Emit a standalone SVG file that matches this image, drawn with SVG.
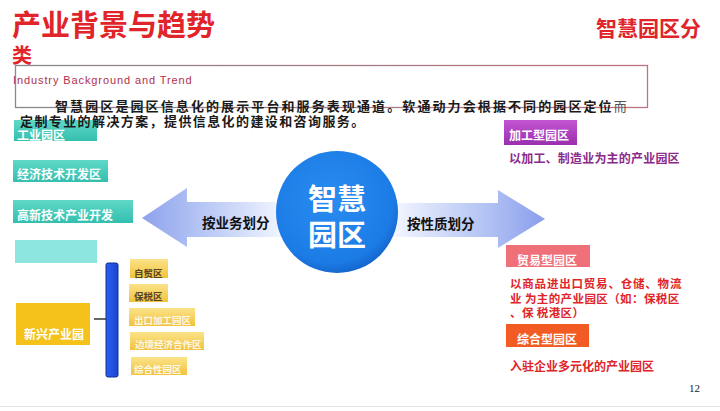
<svg xmlns="http://www.w3.org/2000/svg" width="720" height="411" viewBox="0 0 720 411">
<defs>
<style>
.cjk{font-family:"Noto Sans CJK SC","Noto Sans",sans-serif;font-weight:bold}
.teal{fill:url(#gTeal)}
.wt{fill:#ffffff;font-size:12px}
.ybox{fill:url(#gYel)}
.ysm{font-size:9.5px}
</style>
<linearGradient id="gTeal" x1="0" y1="0" x2="0" y2="1">
<stop offset="0" stop-color="#5fd8c8"/><stop offset="1" stop-color="#34bfae"/>
</linearGradient>
<linearGradient id="gYel" x1="0" y1="0" x2="0" y2="1">
<stop offset="0" stop-color="#fbe38a"/><stop offset="1" stop-color="#f1c23c"/>
</linearGradient>
<linearGradient id="gLeft" x1="0" y1="0" x2="1" y2="0">
<stop offset="0" stop-color="#8ea2ec"/><stop offset="0.4" stop-color="#b4c4f4"/><stop offset="1" stop-color="#f4f7ff"/>
</linearGradient>
<linearGradient id="gRight" x1="0" y1="0" x2="1" y2="0">
<stop offset="0" stop-color="#f4f7ff"/><stop offset="0.6" stop-color="#b4c4f4"/><stop offset="1" stop-color="#8a9eec"/>
</linearGradient>
<linearGradient id="gBorder" x1="0" y1="0" x2="1" y2="0">
<stop offset="0" stop-color="#8a8a8a"/><stop offset="1" stop-color="#c07080"/>
</linearGradient>
<linearGradient id="gPurple" x1="0" y1="0" x2="0" y2="1">
<stop offset="0" stop-color="#c455d2"/><stop offset="1" stop-color="#9a2fae"/>
</linearGradient>
<radialGradient id="gCircle" cx="0.45" cy="0.4" r="0.6">
<stop offset="0" stop-color="#2a8cf0"/><stop offset="0.85" stop-color="#1c7ce6"/><stop offset="1" stop-color="#1668d0"/>
</radialGradient>
<linearGradient id="gBlue" x1="0" y1="0" x2="1" y2="0">
<stop offset="0" stop-color="#2a5ff0"/><stop offset="1" stop-color="#1a44d0"/>
</linearGradient>
</defs>
<rect width="720" height="411" fill="#ffffff"/>

<!-- header -->
<g id="title">
<text class="cjk" x="12" y="36" font-size="29" fill="#e0242a">产业背景与趋势</text>
<text class="cjk" x="12" y="63" font-size="20" fill="#e0242a">类</text>
<text class="cjk" x="596" y="36" font-size="21" fill="#e0242a">智慧园区分</text>
</g>
<g id="subtitle-box">
<rect x="15.5" y="65.5" width="632" height="42" fill="none" stroke="url(#gBorder)" stroke-width="1.3"/>
<text x="13" y="84" font-family="Liberation Sans, Arial, sans-serif" font-size="11" fill="#b0304e" letter-spacing="0.9">Industry  Background  and  Trend</text>
</g>

<!-- connectors -->
<g id="connectors">
<path d="M142,218 L187,188 L187,202 L285,202 L285,237 L187,237 L187,247 Z" fill="url(#gLeft)"/>
<path d="M545,219 L498,190 L498,203 L392,203 L392,237 L498,237 L498,248 Z" fill="url(#gRight)"/>
<line x1="94" y1="319" x2="106" y2="319" stroke="#333" stroke-width="1.5"/>
<rect id="bracket" x="106" y="263" width="12" height="114" rx="2" fill="url(#gBlue)" stroke="#10308a" stroke-width="1"/>
</g>

<!-- center -->
<g id="center">
<circle cx="337" cy="212" r="61" fill="url(#gCircle)"/>
<text class="cjk" x="337" y="210" font-size="29" fill="#ffffff" text-anchor="middle">智慧</text>
<text class="cjk" x="337" y="246" font-size="29" fill="#ffffff" text-anchor="middle">园区</text>
</g>
<g id="label-left"><text class="cjk" x="202" y="228" font-size="13.5" fill="#111">按业务划分</text></g>
<g id="label-right"><text class="cjk" x="407" y="229" font-size="13.5" fill="#111">按性质划分</text></g>

<!-- left nodes -->
<g id="n-gongye"><rect class="teal" x="14" y="120" width="83" height="21"/><text class="cjk wt" x="17" y="140">工业园区</text></g>
<g id="n-jingji"><rect class="teal" x="13" y="160" width="95" height="22"/><text class="cjk wt" x="17" y="179">经济技术开发区</text></g>
<g id="n-gaoxin"><rect class="teal" x="13" y="200" width="120" height="23"/><text class="cjk wt" x="17" y="220">高新技术产业开发</text></g>
<g id="n-empty"><rect x="15" y="240" width="82" height="23" fill="#8ee6e0"/></g>
<g id="n-xinxing"><rect x="16" y="303" width="74" height="42" fill="#f4c21a"/><text class="cjk wt" x="24" y="339">新兴产业园</text></g>

<g id="n-zimao"><rect class="ybox" x="130" y="259" width="38" height="19"/><text class="cjk ysm" x="134" y="277" fill="#5a4322">自贸区</text></g>
<g id="n-baoshui"><rect class="ybox" x="129" y="284" width="39" height="18"/><text class="cjk ysm" x="134" y="300" fill="#5a4322">保税区</text></g>
<g id="n-chukou"><rect class="ybox" x="129" y="308" width="66" height="18"/><text class="cjk ysm" x="134" y="324" fill="#ffffff" opacity="0.85">出口加工园区</text></g>
<g id="n-bianjing"><rect class="ybox" x="130" y="332" width="74" height="18"/><text class="cjk ysm" x="135" y="348" fill="#ffffff" opacity="0.85">边境经济合作区</text></g>
<g id="n-zonghe-l"><rect class="ybox" x="131" y="357" width="56" height="18"/><text class="cjk ysm" x="134" y="373" fill="#ffffff" opacity="0.85">综合性园区</text></g>

<!-- intro text (drawn over the first box, as in the reference) -->
<g id="intro">
<text class="cjk" x="55" y="111" font-size="13" fill="#1a1a1a" letter-spacing="2.1">智慧园区是园区信息化的展示平台和服务表现通道。软通动力会根据不同的园区定位<tspan font-weight="normal" fill="#555">而</tspan></text>
<text class="cjk" x="20" y="126" font-size="13" fill="#1a1a1a" letter-spacing="1.4">定制专业的解决方案，提供信息化的建设和咨询服务。</text>
</g>

<!-- right nodes -->
<g id="n-jiagong">
<rect x="504" y="120" width="73" height="25" fill="url(#gPurple)"/>
<text class="cjk wt" x="509" y="140">加工型园区</text>
<text class="cjk" x="509" y="163" font-size="12" fill="#8a2a8a" letter-spacing="0.2">以加工、制造业为主的产业园区</text>
</g>
<g id="n-maoyi">
<rect x="506" y="245" width="84" height="22" fill="#f0707a"/>
<text class="cjk wt" x="517" y="265">贸易型园区</text>
<text class="cjk" font-size="11.5" fill="#e0242a"><tspan x="510" y="288" letter-spacing="0.8">以商品进出口贸易、仓储、物流</tspan><tspan x="510" y="303" letter-spacing="0.4">业 为主的产业园区（如：保税区</tspan><tspan x="510" y="317" letter-spacing="0.4">、保 税港区）</tspan></text>
</g>
<g id="n-zonghe">
<rect x="506" y="324" width="83" height="23" fill="#f25c24"/>
<text class="cjk wt" x="517" y="344">综合型园区</text>
<text class="cjk" x="510" y="371" font-size="12" fill="#e0242a">入驻企业多元化的产业园区</text>
</g>

<g id="footer">
<line x1="0" y1="406.5" x2="720" y2="406.5" stroke="#e4e4e4" stroke-width="1"/>
<text x="689" y="392" font-family="Liberation Serif, serif" font-size="11" fill="#222">12</text>
</g>
</svg>
